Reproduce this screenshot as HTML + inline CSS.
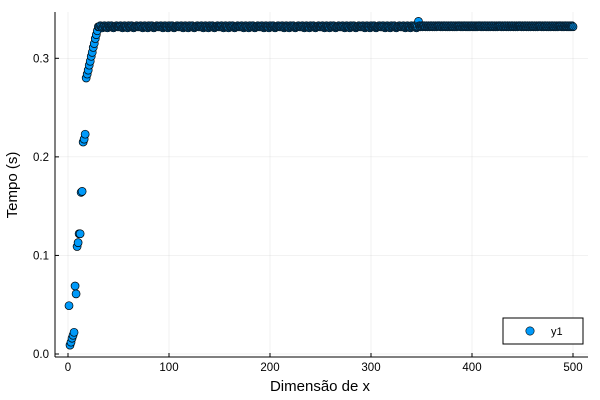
<!DOCTYPE html>
<html><head><meta charset="utf-8"><style>
html,body{margin:0;padding:0;background:#fff;}
svg{display:block;font-family:"Liberation Sans","DejaVu Sans",sans-serif;}
</style></head><body>
<svg id="chart" width="600" height="400">
<rect x="0" y="0" width="600" height="400" fill="#fff"/>
<g id="grid"></g>
<g id="marks"></g>
<g id="outlines"></g>
<g id="axes"></g>
<text x="320" y="391" text-anchor="middle" font-size="15" fill="#000">Dimensão de x</text>
<text x="17" y="185" text-anchor="middle" font-size="15" fill="#000" transform="rotate(-90 17 185)">Tempo (s)</text>
<g>
<rect x="503" y="318" width="80" height="26" fill="#fff" stroke="#000" stroke-width="1"/>
<circle cx="530" cy="331" r="4.2" fill="#009AFA" stroke="#000" stroke-width="0.6"/>
<text x="551" y="335" font-size="11" fill="#000">y1</text>
</g>
</svg>
<script>
const xTicks = [0, 100, 200, 300, 400, 500];
const yTicks = [0.0, 0.1, 0.2, 0.3];
const yTickLabels = ["0.0", "0.1", "0.2", "0.3"];
const earlyY = [0.049,0.009,0.012,0.016,0.019,0.022,0.069,0.061,0.109,0.113,0.122,0.122,0.164,0.165,0.215,0.218,0.223,0.280,0.284,0.288,0.293,0.297,0.302,0.306,0.311,0.315,0.320,0.324,0.328,0.332];
const plateauA = [
0.332,0.333,0.332,0.331,0.332,0.333,0.332,0.332,0.331,0.333,0.332,0.332,0.333,0.332,0.331,0.332,0.332,0.333,0.332,0.332,
0.332,0.333,0.332,0.331,0.332,0.333,0.332,0.332,0.331,0.333,0.332,0.332,0.333,0.332,0.331,0.332,0.332,0.333,0.332,0.332,
0.332,0.333,0.332,0.331,0.332,0.333,0.332,0.332,0.331,0.333,0.332,0.332,0.333,0.332,0.331,0.332,0.332,0.333,0.332,0.332,
0.332,0.333,0.332,0.331,0.332,0.333,0.332,0.332,0.331,0.333,0.332,0.332,0.333,0.332,0.331,0.332,0.332,0.333,0.332,0.332,
0.332,0.333,0.332,0.331,0.332,0.333,0.332,0.332,0.331,0.333,0.332,0.332,0.333,0.332,0.331,0.332,0.332,0.333,0.332,0.332,
0.332,0.333,0.332,0.331,0.332,0.333,0.332,0.332,0.331,0.333,0.332,0.332,0.333,0.332,0.331,0.332,0.332,0.333,0.332,0.332,
0.332,0.333,0.332,0.331,0.332,0.333,0.332,0.332,0.331,0.333,0.332,0.332,0.333,0.332,0.331,0.332,0.332,0.333,0.332,0.332,
0.332,0.333,0.332,0.331,0.332,0.333,0.332,0.332,0.331,0.333,0.332,0.332,0.333,0.332,0.331,0.332,0.332,0.333,0.332,0.332,
0.332,0.333,0.332,0.331,0.332,0.333,0.332,0.332,0.331,0.333,0.332,0.332,0.333,0.332,0.331,0.332,0.332,0.333,0.332,0.332,
0.332,0.333,0.332,0.331,0.332,0.333,0.332,0.332,0.331,0.333,0.332,0.332,0.333,0.332,0.331,0.332,0.332,0.333,0.332,0.332,
0.332,0.333,0.332,0.331,0.332,0.333,0.332,0.332,0.331,0.333,0.332,0.332,0.333,0.332,0.331,0.332,0.332,0.333,0.332,0.332,
0.332,0.333,0.332,0.331,0.332,0.333,0.332,0.332,0.331,0.333,0.332,0.332,0.333,0.332,0.331,0.332,0.332,0.333,0.332,0.332,
0.332,0.333,0.332,0.331,0.332,0.333,0.332,0.332,0.331,0.333,0.332,0.332,0.333,0.332,0.331,0.332,0.332,0.333,0.332,0.332,
0.332,0.333,0.332,0.331,0.332,0.333,0.332,0.332,0.331,0.333,0.332,0.332,0.333,0.332,0.331,0.332,0.332,0.333,0.332,0.332,
0.332,0.333,0.332,0.331,0.332,0.333,0.332,0.332,0.331,0.333,0.332,0.332,0.333,0.332,0.331,0.332,0.332,0.333,0.332,0.332,
0.332,0.333,0.332,0.331,0.332,0.333,0.332,0.332,0.331,0.333,0.332,0.332,0.333,0.332,0.331,0.332];
const spikeY = [0.3375];
const plateauB = [
0.333,0.332,0.333,0.332,0.333,0.333,0.332,0.333,0.332,0.333,0.332,0.333,0.333,0.332,0.333,0.332,0.333,0.332,0.333,0.333,
0.333,0.332,0.333,0.332,0.333,0.333,0.332,0.333,0.332,0.333,0.332,0.333,0.333,0.332,0.333,0.332,0.333,0.332,0.333,0.333,
0.333,0.332,0.333,0.332,0.333,0.333,0.332,0.333,0.332,0.333,0.332,0.333,0.333,0.332,0.333,0.332,0.333,0.332,0.333,0.333,
0.333,0.332,0.333,0.332,0.333,0.333,0.332,0.333,0.332,0.333,0.332,0.333,0.333,0.332,0.333,0.332,0.333,0.332,0.333,0.333,
0.333,0.332,0.333,0.332,0.333,0.333,0.332,0.333,0.332,0.333,0.332,0.333,0.333,0.332,0.333,0.332,0.333,0.332,0.333,0.333,
0.333,0.332,0.333,0.332,0.333,0.333,0.332,0.333,0.332,0.333,0.332,0.333,0.333,0.332,0.333,0.332,0.333,0.332,0.333,0.333,
0.333,0.332,0.333,0.332,0.333,0.333,0.332,0.333,0.332,0.333,0.332,0.333,0.333,0.332,0.333,0.332,0.333,0.332,0.333,0.333,
0.333,0.332,0.333,0.332,0.333,0.333,0.332,0.333,0.332,0.333,0.332,0.333];
const lastY = [0.332];

const NS = "http://www.w3.org/2000/svg";
const PL = 55, PR = 588, PT = 12, PB = 357;
function sx(v){ return 68 + (v - 0) * (573 - 68) / 500; }
function sy(v){ return 354 - v * (354 - 58.3) / 0.3; }

const grid = document.getElementById('grid');
const axes = document.getElementById('axes');
const marks = document.getElementById('marks');
const outlines = document.getElementById('outlines');
function mk(tag, attrs, parent){ const e = document.createElementNS(NS, tag); for (const k in attrs) e.setAttribute(k, attrs[k]); parent.appendChild(e); return e; }

xTicks.forEach(t => {
  const g = mk('line', {x1:sx(t), x2:sx(t), y1:PT, y2:PB, stroke:'#000', 'stroke-opacity':0.1, 'stroke-width':0.5}, grid);
  
  
  const tk = mk('line', {x1:sx(t), x2:sx(t), y1:PB, y2:PB-4, stroke:'#000', 'stroke-width':1}, axes);
  
  
  const lb = mk('text', {x:sx(t), y:PB+14, 'text-anchor':'middle', 'font-size':11.5, fill:'#000'}, axes);
  lb.textContent = String(t);
  
  
});
yTicks.forEach((t, i) => {
  const g = mk('line', {x1:PL, x2:PR, y1:sy(t), y2:sy(t), stroke:'#000', 'stroke-opacity':0.1, 'stroke-width':0.5}, grid);
  
  
  const tk = mk('line', {x1:PL, x2:PL+4, y1:sy(t), y2:sy(t), stroke:'#000', 'stroke-width':1}, axes);
  
  
  const lb = mk('text', {x:PL-6, y:sy(t)+4, 'text-anchor':'end', 'font-size':11.5, fill:'#000'}, axes);
  lb.textContent = yTickLabels[i];
  
  
});
const xa = mk('line', {x1:PL, x2:PR, y1:PB, y2:PB, stroke:'#000', 'stroke-width':1}, axes);


const ya = mk('line', {x1:PL, x2:PL, y1:PT, y2:PB, stroke:'#000', 'stroke-width':1}, axes);



const allY = earlyY.concat(plateauA, spikeY, plateauB, lastY);
allY.forEach((v, i) => {
  const c = mk('circle', {cx:sx(i+1), cy:sy(v), r:4, fill:'#009AFA', stroke:'#000', 'stroke-width':0.7}, marks);
  
  
});
allY.forEach((v, i) => {
  if (i < earlyY.length || i === allY.length - 1 || i === earlyY.length + plateauA.length) return;
  const o = mk('circle', {cx:sx(i+1), cy:sy(v), r:4, fill:'none', stroke:'#06263b', 'stroke-width':0.7, 'stroke-opacity':0.8}, outlines);
  
  
});
</script>
</body></html>
